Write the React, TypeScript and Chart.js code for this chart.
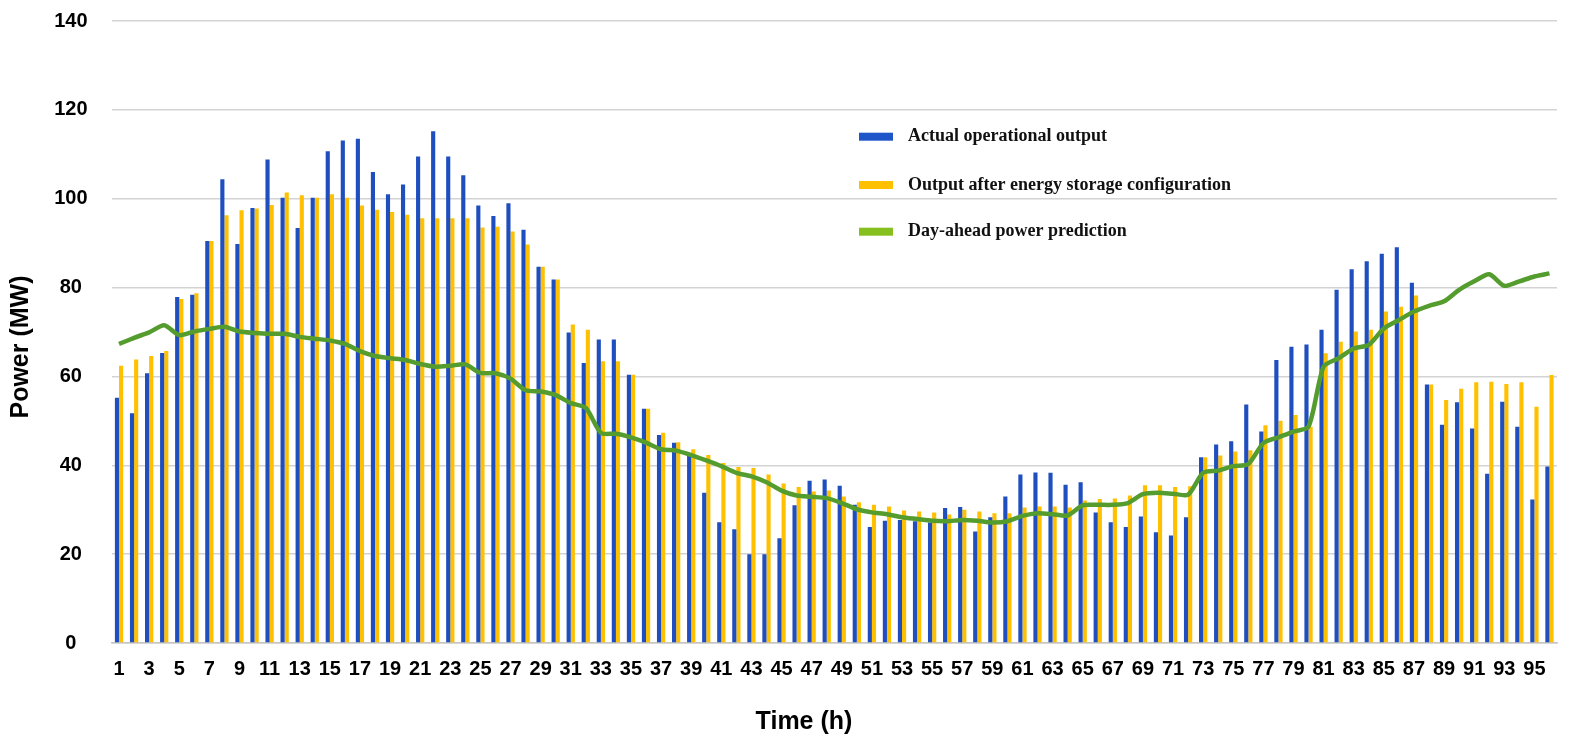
import { useEffect, useRef } from "react";
import { Chart, registerables } from "chart.js";

Chart.register(...registerables);

// time slots 1..96
const hours: string[] = [
  "1", "2", "3", "4", "5", "6", "7", "8", "9", "10", "11", "12",
  "13", "14", "15", "16", "17", "18", "19", "20", "21", "22", "23", "24",
  "25", "26", "27", "28", "29", "30", "31", "32", "33", "34", "35", "36",
  "37", "38", "39", "40", "41", "42", "43", "44", "45", "46", "47", "48",
  "49", "50", "51", "52", "53", "54", "55", "56", "57", "58", "59", "60",
  "61", "62", "63", "64", "65", "66", "67", "68", "69", "70", "71", "72",
  "73", "74", "75", "76", "77", "78", "79", "80", "81", "82", "83", "84",
  "85", "86", "87", "88", "89", "90", "91", "92", "93", "94", "95", "96",
];

const actualOutput: number[] = [
  55.2, 51.7, 60.7, 65.3, 77.9, 78.4, 90.5, 104.4, 89.8, 97.9, 108.8, 100.2,
  93.4, 100.2, 110.7, 113.1, 113.5, 106.0, 101.0, 103.2, 109.5, 115.2, 109.5, 105.3,
  98.5, 96.1, 99.0, 93.0, 84.7, 81.8, 69.9, 63.0, 68.3, 68.3, 60.4, 52.7,
  46.8, 45.1, 42.7, 33.8, 27.2, 25.6, 20.0, 20.0, 23.6, 31.0, 36.5, 36.8,
  35.4, 31.1, 26.1, 27.5, 27.7, 27.4, 27.1, 30.4, 30.6, 25.1, 28.3, 33.0,
  37.9, 38.4, 38.3, 35.6, 36.2, 29.4, 27.2, 26.1, 28.5, 24.9, 24.2, 28.3,
  41.8, 44.7, 45.4, 53.7, 47.6, 63.7, 66.7, 67.2, 70.5, 79.5, 84.1, 85.9,
  87.6, 89.1, 81.1, 58.2, 49.1, 54.2, 48.3, 38.1, 54.3, 48.7, 32.3, 39.7,
];

const storageOutput: number[] = [
  62.4, 63.8, 64.6, 65.7, 77.4, 78.7, 90.5, 96.3, 97.4, 97.8, 98.6, 101.4,
  100.8, 100.2, 101.0, 100.2, 98.5, 97.5, 97.0, 96.4, 95.6, 95.6, 95.6, 95.6,
  93.5, 93.7, 92.6, 89.7, 84.7, 81.8, 71.7, 70.5, 63.4, 63.4, 60.4, 52.7,
  47.3, 45.2, 43.6, 42.3, 40.5, 39.6, 39.4, 37.9, 35.9, 35.1, 34.1, 34.3,
  33.0, 31.7, 31.1, 30.7, 29.8, 29.6, 29.4, 28.9, 30.0, 29.6, 29.2, 29.2,
  30.5, 30.7, 30.7, 30.5, 32.1, 32.4, 32.5, 33.2, 35.5, 35.5, 35.1, 35.3,
  41.8, 42.2, 43.1, 43.4, 49.0, 50.0, 51.3, 48.7, 65.2, 67.8, 70.1, 70.5,
  74.6, 75.7, 78.2, 58.2, 54.7, 57.2, 58.7, 58.8, 58.3, 58.7, 53.2, 60.3,
];

const dayAheadPrediction: number[] = [
  67.3, 68.7, 69.9, 71.5, 69.3, 70.1, 70.7, 71.2, 70.1, 69.8, 69.6, 69.6,
  68.9, 68.5, 68.1, 67.3, 65.7, 64.6, 64.1, 63.7, 62.8, 62.2, 62.4, 62.7,
  60.8, 60.7, 59.5, 56.9, 56.6, 55.8, 54.0, 52.9, 47.3, 47.1, 46.3, 45.1,
  43.6, 43.3, 42.3, 41.1, 39.8, 38.3, 37.5, 36.2, 34.3, 33.2, 32.9, 32.6,
  31.5, 30.1, 29.4, 29.0, 28.3, 27.9, 27.5, 27.4, 27.7, 27.5, 27.1, 27.4,
  28.6, 29.2, 29.0, 28.7, 31.0, 31.1, 31.1, 31.5, 33.5, 33.8, 33.6, 33.4,
  38.3, 38.8, 39.8, 40.3, 45.0, 46.3, 47.6, 48.7, 62.2, 64.1, 66.3, 67.1,
  70.8, 72.7, 74.6, 75.9, 76.9, 79.5, 81.4, 83.0, 80.4, 81.4, 82.5, 83.2,
];

const seriesNames = [
  "Actual operational output",
  "Output after energy storage configuration",
  "Day-ahead power prediction",
];

const BLUE = "#1f4fbf";
const ORANGE = "#ffc000";
const GREEN = "#559c2e";
const legendColors = ["#1f55c8", "#ffc000", "#86c01e"];

// legend drawn inside the plot like the original figure
const legendPlugin = {
  id: "insideLegend",
  afterDraw(chart: any) {
    const ctx = chart.ctx;
    const rows = [128.7, 177, 223.7];
    ctx.save();
    rows.forEach((y, i) => {
      ctx.fillStyle = legendColors[i];
      ctx.fillRect(851, y - 4, 34, 8);
      ctx.fillStyle = "#111";
      ctx.font = "bold 18px 'Liberation Serif', 'DejaVu Serif', serif";
      ctx.textAlign = "left";
      ctx.textBaseline = "middle";
      ctx.fillText(seriesNames[i], 900, y);
    });
    ctx.restore();
  },
};

// axis titles, placed where the figure has them
const axisTitlePlugin = {
  id: "axisTitles",
  afterDraw(chart: any) {
    const ctx = chart.ctx;
    ctx.save();
    ctx.fillStyle = "#000";
    ctx.font = "bold 25px 'Liberation Sans', Arial, sans-serif";
    ctx.textAlign = "center";
    ctx.textBaseline = "middle";
    ctx.fillText("Time (h)", 796, 714);
    ctx.translate(13, 339);
    ctx.rotate(-Math.PI / 2);
    ctx.fillText("Power (MW)", 0, 0);
    ctx.restore();
  },
};

function PowerChart() {
  const canvasRef = useRef<HTMLCanvasElement>(null);

  useEffect(() => {
    if (!canvasRef.current) return;
    const chart = new Chart(canvasRef.current, {
      type: "bar",
      data: {
        labels: hours,
        datasets: [
          {
            type: "line",
            label: seriesNames[2],
            data: dayAheadPrediction,
            borderColor: GREEN,
            backgroundColor: GREEN,
            borderWidth: 4.5,
            pointRadius: 0,
            tension: 0.25,
            order: 0,
          },
          {
            label: seriesNames[0],
            data: actualOutput,
            backgroundColor: BLUE,
            categoryPercentage: 0.55,
            barPercentage: 1,
            order: 1,
          },
          {
            label: seriesNames[1],
            data: storageOutput,
            backgroundColor: ORANGE,
            categoryPercentage: 0.55,
            barPercentage: 1,
            order: 1,
          },
        ] as any,
      },
      options: {
        animation: false,
        responsive: false,
        devicePixelRatio: 1,
        layout: { padding: { top: 13, right: 9, left: 0, bottom: 0 } },
        plugins: {
          legend: { display: false },
          tooltip: { enabled: false },
        },
        scales: {
          x: {
            afterFit: (scale: any) => {
              scale.height = 101;
            },
            grid: { display: false, drawTicks: false },
            border: { display: true, color: "#c4c4c4", width: 1.5 },
            ticks: {
              autoSkip: false,
              maxRotation: 0,
              padding: 14,
              color: "#000",
              font: { family: "'Liberation Sans', Arial, sans-serif", size: 20, weight: "bold" },
              callback: (_v: any, i: number) => (i % 2 === 0 ? hours[i] : ""),
            },
          },
          y: {
            min: 0,
            max: 140,
            afterFit: (scale: any) => {
              scale.width = 103.5;
              // tick padding is horizontal here; don't let it push the plot down
              scale.paddingTop = 12;
              scale.paddingBottom = 12;
            },
            grid: { color: "#d3d3d3", lineWidth: 1.5, drawTicks: false },
            border: { display: false },
            ticks: {
              stepSize: 20,
              padding: 24,
              crossAlign: "center",
              color: "#000",
              font: { family: "'Liberation Sans', Arial, sans-serif", size: 20, weight: "bold" },
            },
          },
        },
      } as any,
      plugins: [legendPlugin, axisTitlePlugin],
    });
    return () => chart.destroy();
  }, []);

  return (
    <div style={{ width: 1558, height: 736, overflow: "hidden" }}>
      <canvas ref={canvasRef} width={1558} height={736} style={{ display: "block" }} />
    </div>
  );
}

export default function App() {
  return <PowerChart />;
}
